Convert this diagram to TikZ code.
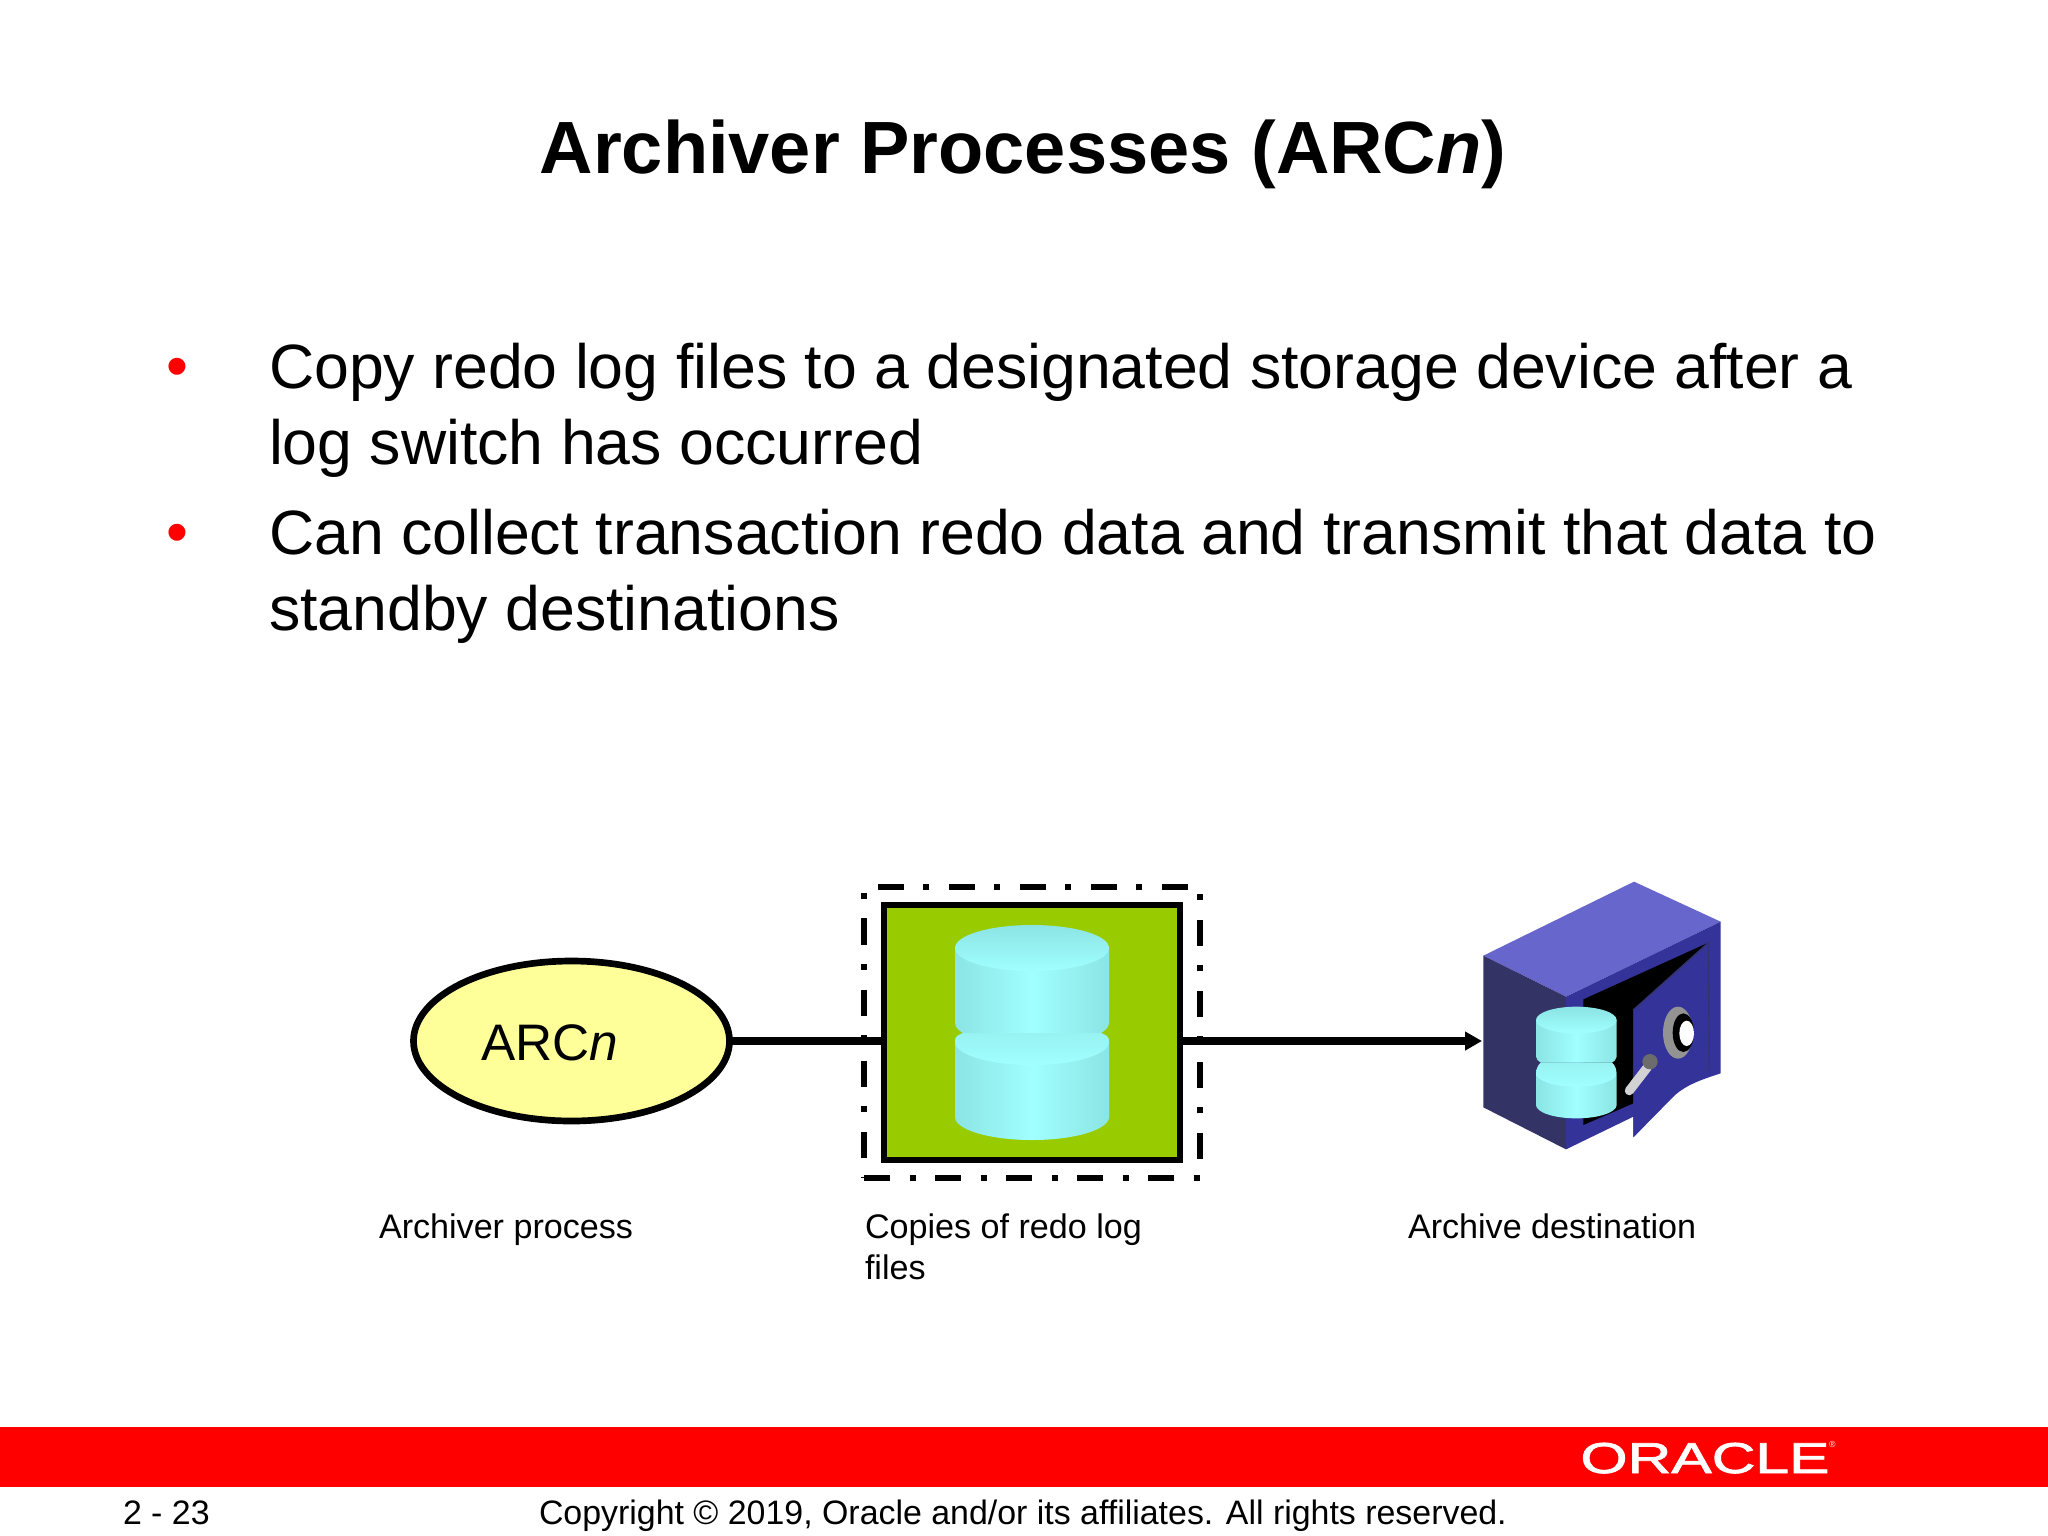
\documentclass[tikz,border=0pt]{standalone}
\usepackage{fontspec}
\setmainfont{Liberation Sans}
\newfontfamily\logofont[FakeBold=1.6]{Liberation Sans}
\usetikzlibrary{arrows.meta,shapes.geometric,calc}
\definecolor{barred}{HTML}{FF0000}
\definecolor{ellfill}{HTML}{FFFF99}
\definecolor{boxgreen}{HTML}{99CC00}
\definecolor{cyllight}{HTML}{A0FFFF}
\definecolor{cyldark}{HTML}{8CE4E4}
\definecolor{cylmid}{HTML}{98F2F2}
\definecolor{safetop}{HTML}{6666CC}
\definecolor{safeleft}{HTML}{333366}
\definecolor{safefront}{HTML}{333399}
\newcommand{\fs}[1]{\fontsize{#1}{#1}\selectfont}
\tikzset{
  txt/.style={inner sep=0pt,outer sep=0pt,anchor=base west,text=black},
  bodytxt/.style={txt,font=\fs{17.8}},
  bullettxt/.style={txt,text=barred,font=\fs{17.8}},
  captiontxt/.style={txt,font=\fs{9.7}},
  foottxt/.style={txt,font=\fs{9.64}},
  wire/.style={line width=2.1pt,black},
  cylside/.style={left color=cyldark,right color=cyldark,middle color=cyllight},
  cyltop/.style={top color=cyldark,bottom color=cyllight},
  cylband/.style={top color=cylmid,bottom color=cyllight},
}
% #1 = centre x, #2 = half width, #3 = top ellipse centre y, #4 = ry, #5 = lower ellipse centre y, #6 = bottom side y, #7 = upper side end, #8 = notch unit
\newcommand{\dbcyl}[8]{%
  \path[cylside] (#1-#2,#5) -- (#1-#2,#6) arc[start angle=180,end angle=360,x radius=#2,y radius=-#4] -- (#1+#2,#5) -- cycle;
  \path[cylside] (#1-#2,#3) -- (#1-#2,#7) .. controls (#1-#2,#7+#8) and (#1-#2+#8,#7+1.6*#8) .. (#1-#2+1.6*#8,#7+2*#8)
     -- (#1+#2-1.6*#8,#7+2*#8) .. controls (#1+#2-#8,#7+1.6*#8) and (#1+#2,#7+#8) .. (#1+#2,#7) -- (#1+#2,#3) -- cycle;
  \path[cylside] (#1-#2+1.6*#8,#7+2*#8) .. controls (#1-#2+#8,#7+2.4*#8) and (#1-#2,#5-1.5*#8) .. (#1-#2,#5)
     -- (#1+#2,#5) .. controls (#1+#2,#5-1.5*#8) and (#1+#2-#8,#7+2.4*#8) .. (#1+#2-1.6*#8,#7+2*#8) -- cycle;
  \path[cylband] (#1-#2,#5) arc[start angle=180,end angle=360,x radius=#2,y radius=-#4] .. controls (#1+#2,#5-1.5*#8) and (#1+#2-#8,#7+2.4*#8) .. (#1+#2-1.6*#8,#7+2*#8) -- (#1-#2+1.6*#8,#7+2*#8) .. controls (#1-#2+#8,#7+2.4*#8) and (#1-#2,#5-1.5*#8) .. (#1-#2,#5) -- cycle;
  \path[cyltop] (#1,#3) ellipse[x radius=#2,y radius=#4];
}
\begin{document}
\begin{tikzpicture}[x=0.01cm,y=-0.01cm]
\useasboundingbox (0,0) rectangle (2048,1536);
\fill[white] (0,0) rectangle (2048,1536);
% title
\node[txt,anchor=base,font=\fs{21.05}\bfseries] (title) at (1023,173) {Archiver Processes (ARC\textit{n})};
% bullets
\node[bullettxt] (b1) at (166,387) {•};
\node[bodytxt] (l1) at (269,388) {Copy redo log files to a designated storage device after a};
\node[bodytxt] (l2) at (269,464) {log switch has occurred};
\node[bullettxt] (b2) at (166,553) {•};
\node[bodytxt] (l3) at (269,554) {Can collect transaction redo data and transmit that data to};
\node[bodytxt] (l4) at (269,630) {standby destinations};
% dashed frame
\node[draw=black,line width=1.7pt,minimum width=336*0.01cm,minimum height=291*0.01cm,inner sep=0pt,outer sep=0pt,
  dash pattern=on 26*0.2845pt off 19.5*0.2845pt on 6*0.2845pt off 19.5*0.2845pt] (frame) at (1032,1032.5) {};
% process ellipse
\node[ellipse,draw=black,fill=ellfill,line width=1.9pt,minimum width=316*0.01cm,minimum height=160*0.01cm,inner sep=0pt,outer sep=0pt] (arc) at (571.5,1041) {};
\node[txt,font=\fs{14.6}] (arclabel) at (481,1060) {ARC\textit{n}};
% safe
\begin{scope}[shift={(1440,860)},x=0.01cm/3,y=-0.01cm/3]
  \fill[safetop] (130,287) -- (582,65) -- (842,185) -- (378,410) -- cycle;
  \fill[safeleft] (130,287) -- (378,410) -- (378,868) -- (130,742) -- cycle;
  \fill[safefront] (378,410) -- (842,185) -- (842,640) .. controls (780,660) and (740,675) .. (705,705) -- (580,832) -- (580,770) -- (378,868) -- cycle;
  \fill[black] (430,418) -- (805,248) -- (580,450) -- (580,730) -- (430,795) -- cycle;
  \fill[safefront] (580,450) -- (805,248) -- (808,632) -- (705,700) -- (580,832) -- cycle;
  \draw[safeleft!80!safefront,line width=0.4pt] (580,450) -- (805,248) -- (808,632);
  % dial
  \fill[gray!85] (714,518) ellipse[x radius=45,y radius=78];
  \fill[black] (730,518) ellipse[x radius=32,y radius=58];
  \fill[white] (740,520) ellipse[x radius=22,y radius=38];
  % handle
  \draw[line width=2.6pt,gray!35,line cap=round] (568,692) -- (622,622);
  \fill[gray!85!black] (630,605) circle[radius=23];
  \dbcyl{409}{121}{480}{40}{640}{735}{590}{9}
\end{scope}
\coordinate (safein) at (1482,1041);
% wires
\draw[wire] (arc.east) -- (884,1041);
\draw[wire,-{Triangle[length=17*0.2845pt,width=18*0.2845pt]}] (1180,1041) -- (safein);
% green box
\node[draw=black,fill=boxgreen,line width=1.7pt,minimum width=296*0.01cm,minimum height=255*0.01cm,inner sep=0pt,outer sep=0pt] (box) at (1032,1032.5) {};
\dbcyl{1032}{77}{948}{23}{1042}{1117}{1023}{5}
% captions
\node[captiontxt] (c1) at (379,1238) {Archiver process};
\node[captiontxt] (c2a) at (865,1238) {Copies of redo log};
\node[captiontxt] (c2b) at (865,1279) {files};
\node[captiontxt] (c3) at (1408,1238) {Archive destination};
% footer
\fill[barred] (0,1427) rectangle (2048,1487);
\node[txt,text=white,font=\logofont\fs{12.3},xscale=1.40,transform shape,anchor=base] (logo) at (1705,1473) {ORACLE};
\node[txt,text=white,font=\fs{2.5}] (reg) at (1829,1447) {®};
\node[foottxt] (pg) at (123,1524) {2 - 23};
\node[foottxt] (copy) at (539,1524) {Copyright © 2019, Oracle and/or its affiliates. All rights reserved.};
\end{tikzpicture}
\end{document}
